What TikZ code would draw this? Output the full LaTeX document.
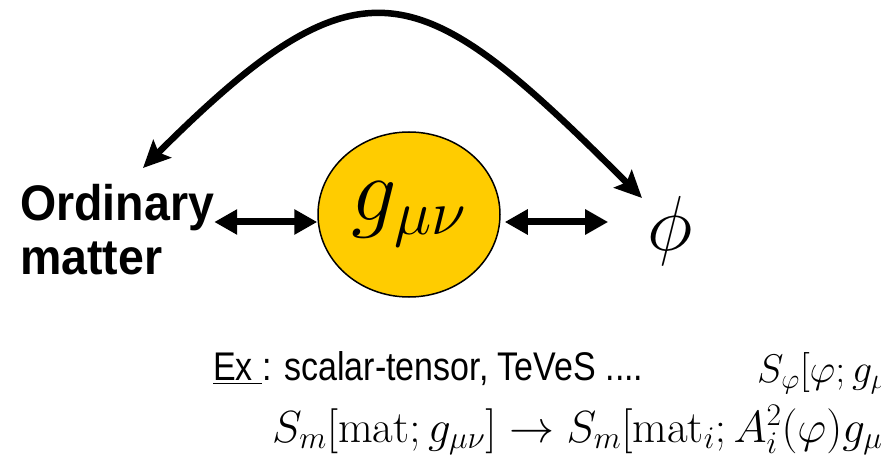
\RequirePackage{fix-cm}
\documentclass[tikz,border=0pt]{standalone}
\usepackage{amsmath}
\usepackage{fontspec}
\usetikzlibrary{arrows.meta,positioning,shapes.geometric}
\newfontfamily\labelfont[FakeStretch=0.93]{Liberation Sans}
\newfontfamily\exfont[FakeStretch=0.85]{Liberation Sans}
\definecolor{metricGold}{HTML}{FFCC00}

\begin{document}
\begin{tikzpicture}[x=1pt,y=-1pt,every node/.style={inner sep=0pt},
    twohead/.style={line width=7pt,{Triangle[length=23pt,width=24pt]}-{Triangle[length=23pt,width=24pt]}},
    loopback/.style={line width=6.5pt,{Stealth[length=27pt,width=25pt,inset=5pt]}-{Stealth[length=27pt,width=25pt,inset=5pt]}}]
  \useasboundingbox (0,0) rectangle (881,465);
  \clip (0,0) rectangle (881,465);
  \node[ellipse,draw=black,line width=1.5pt,fill=metricGold,minimum width=182pt,minimum height=165pt] (metric) at (409,214.5) {\fontsize{90}{90}\selectfont$g_{\mu\nu}$};
  \node[anchor=base west,align=left,font={\labelfont\bfseries\fontsize{50}{54}\selectfont}] (matter) at (20,274) {Ordinary\\matter};
  \node[anchor=base] (phi) at (670,251) {\fontsize{78}{78}\selectfont$\phi$};
  \coordinate (tipL) at (143,168);
  \coordinate (tipR) at (642,198);
  \draw[twohead] ([yshift=-7.5pt]metric.west) -- ([yshift=-7.5pt]metric.west -| matter.east);
  \draw[twohead,shorten <=4pt,shorten >=39pt] ([yshift=-7.5pt]metric.east) -- ([yshift=-7.5pt]metric.east -| phi.west);
  \draw[loopback] (tipL) .. controls (364,-53) and (421,-23) .. (tipR);
  % example theories and the actions
  \node[anchor=base west,font={\exfont\fontsize{40}{44}\selectfont}] (example) at (213,380) {\underline{Ex\ }: scalar-tensor, TeVeS ....};
  \node[anchor=base west,font={\fontsize{40}{44}\selectfont}] (actionphi) at (757,382) {$S_\varphi[\varphi;g_{\mu\nu}]$};
  \node[anchor=base west,font={\fontsize{45}{48}\selectfont}] (actionmat) at (272,442) {$S_m[\mathrm{mat};g_{\mu\nu}]\rightarrow S_m[\mathrm{mat}_i;A_i^2(\varphi)g_{\mu\nu}]$};
\end{tikzpicture}
\end{document}
